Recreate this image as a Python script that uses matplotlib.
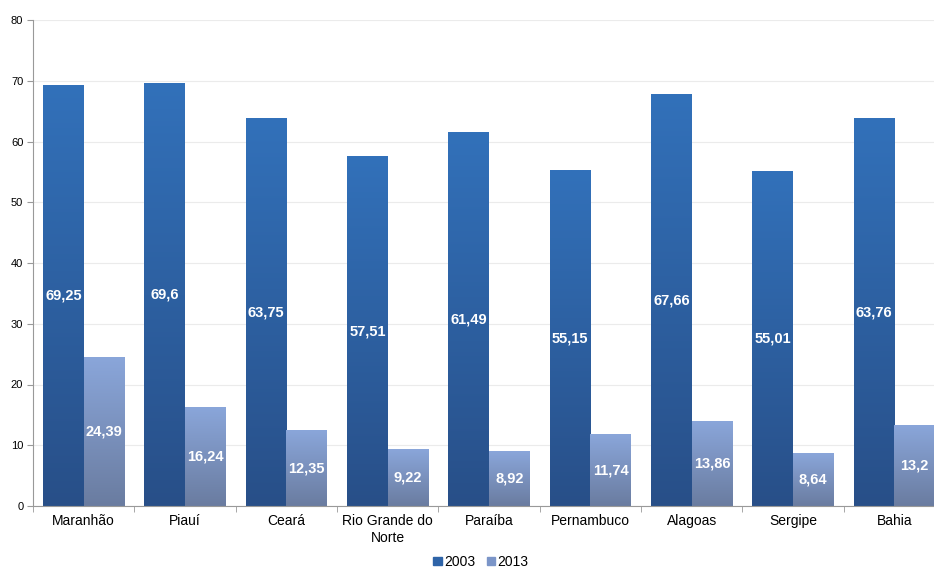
import numpy as np
import matplotlib.pyplot as plt
from matplotlib.colors import LinearSegmentedColormap
from matplotlib.patches import Patch

plt.rcParams['font.family'] = ['Liberation Sans', 'DejaVu Sans']

estados = ['Maranhão', 'Piauí', 'Ceará', 'Rio Grande do\nNorte', 'Paraíba',
           'Pernambuco', 'Alagoas', 'Sergipe', 'Bahia']
v2003 = [69.25, 69.6, 63.75, 57.51, 61.49, 55.15, 67.66, 55.01, 63.76]
v2013 = [24.39, 16.24, 12.35, 9.22, 8.92, 11.74, 13.86, 8.64, 13.2]

cmap03 = LinearSegmentedColormap.from_list('c03', ['#284f88', '#3271ba'])
cmap13 = LinearSegmentedColormap.from_list('c13', ['#6a7ca0', '#8aa6da'])
grad = np.linspace(0, 1, 256).reshape(-1, 1)

fig = plt.figure(figsize=(9.34, 5.7), dpi=100)
ax = fig.add_axes([33 / 934, 64 / 570, 912 / 934, 486 / 570])

x = np.arange(len(estados))
w = 0.4


def gradient_bar(xc, h, cmap):
    ax.imshow(grad, cmap=cmap, origin='lower', aspect='auto',
              extent=[xc - w / 2, xc + w / 2, 0, h], zorder=2)


for i in range(len(estados)):
    gradient_bar(x[i] - w / 2, v2003[i], cmap03)
    gradient_bar(x[i] + w / 2, v2013[i], cmap13)
    ax.text(x[i] - w / 2, v2003[i] / 2, f'{v2003[i]:g}'.replace('.', ','),
            ha='center', va='center', color='white', fontsize=10.5,
            fontweight='bold', zorder=3)
    ax.text(x[i] + w / 2, v2013[i] / 2, f'{v2013[i]:g}'.replace('.', ','),
            ha='center', va='center', color='white', fontsize=10.5,
            fontweight='bold', zorder=3)

ax.set_xlim(-0.5, len(estados) - 0.5)
ax.set_ylim(0, 80)
ax.set_yticks(range(0, 81, 10))
ax.yaxis.grid(True, color='#ebebeb', linewidth=0.8)
ax.set_axisbelow(True)

ax.set_xticks(x)
ax.set_xticklabels(estados, fontsize=10)
ax.set_xticks(np.arange(-0.5, len(estados), 1), minor=True)
ax.tick_params(axis='x', which='major', length=0, pad=6)
ax.tick_params(axis='x', which='minor', length=4, color='#999999')
ax.tick_params(axis='y', labelsize=8, length=4, color='#999999', pad=3)

for s in ['top', 'right']:
    ax.spines[s].set_visible(False)
ax.spines['left'].set_color('#999999')
ax.spines['bottom'].set_color('#999999')

handles = [Patch(color='#2e64a8', label='2003'), Patch(color='#7b95c8', label='2013')]
fig.legend(handles=handles, loc='lower center', bbox_to_anchor=(0.515, -0.02),
           ncol=2, frameon=False, fontsize=10, handlelength=0.6, handleheight=0.6,
           handletextpad=0.2, columnspacing=0.8)

fig.savefig('out.png', dpi=100)
